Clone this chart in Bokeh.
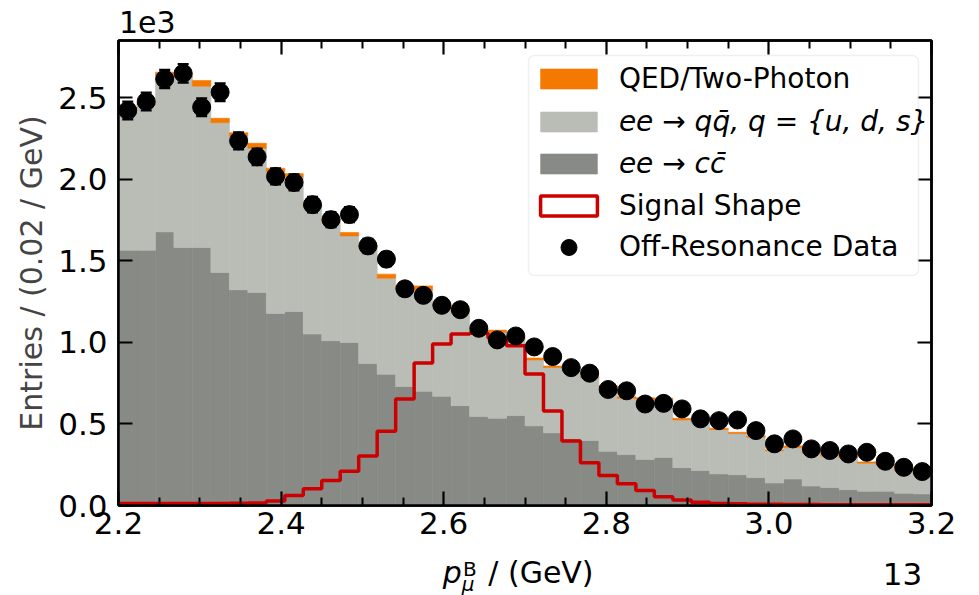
import numpy as np
from bokeh.plotting import figure
from bokeh.layouts import column
from bokeh.models import (ColumnDataSource, Range1d, LinearAxis, FixedTicker, Div,
                          CustomJSTickFormatter, Legend, LegendItem, BoxAnnotation)
from bokeh.embed import file_html
from bokeh.resources import INLINE

# ---------------- data (entries per bin) ----------------
x_start, x_end, n_bins = 2.2, 3.2, 44

ccbar = [1565, 1565, 1677, 1581, 1581, 1428, 1322, 1305, 1177, 1189,
         1051, 1010, 999, 871, 804, 730, 700, 669, 612, 545,
         534, 551, 488, 445, 410, 398, 332, 312, 282, 294,
         232, 214, 194, 189, 171, 138, 162, 119, 110, 97,
         87, 88, 75, 71]
uds = [860, 890, 961, 1044, 989, 918, 942, 884, 867, 824,
       779, 728, 653, 710, 589, 596, 620, 555, 577, 517,
       527, 473, 404, 401, 432, 383, 392, 345, 369, 354,
       292, 304, 271, 252, 247, 197, 193, 201, 192, 195,
       172, 159, 139, 127]
qed = [15, 15, 18, 25, 35, 27, 21, 31, 23, 21,
       16, 17, 21, 16, 25, 20, 26, 14, 15, 13,
       14, 10, 12, 9, 9, 8, 10, 10, 10, 10,
       10, 8, 8, 8, 10, 6, 10, 10, 10, 8,
       8, 8, 11, 12]
signal = [12, 12, 12, 12, 12, 12, 14, 16, 28, 62,
          102, 153, 210, 303, 455, 653, 873, 990, 1051, 1055,
          1026, 979, 806, 579, 396, 262, 184, 133, 92, 53,
          33, 20, 12, 10, 8, 8, 6, 6, 5, 5,
          5, 5, 5, 5]
data = [2421, 2476, 2614, 2649, 2441, 2533, 2235, 2137, 2017, 1980,
        1844, 1752, 1783, 1591, 1510, 1328, 1288, 1227, 1200, 1086,
        1015, 1039, 972, 913, 845, 811, 711, 703, 622, 626,
        592, 531, 520, 524, 459, 378, 408, 347, 337, 316,
        326, 271, 234, 208]
data_err = [54, 55, 56, 57, 54, 55, 52, 51, 49, 49,
            47, 46, 46, 44, 43, 40, 39, 39, 38, 36,
            35, 35, 34, 33, 32, 31, 29, 29, 27, 28,
            27, 25, 25, 25, 24, 21, 22, 20, 20, 20,
            20, 18, 17, 16]

x_major_ticks = [2.2, 2.4, 2.6, 2.8, 3.0, 3.2]
x_minor_ticks = [2.25, 2.3, 2.35, 2.45, 2.5, 2.55, 2.65, 2.7, 2.75,
                 2.85, 2.9, 2.95, 3.05, 3.1, 3.15]
y_major_ticks = [0, 500, 1000, 1500, 2000, 2500]
y_max = 2850

ORANGE = "#f57900"
LIGHT = "#babdb6"
DARK = "#888a85"
RED = "#cc0000"
FONT = "DejaVu Sans"

# ---------------- derived arrays ----------------
edges = np.linspace(x_start, x_end, n_bins + 1)
left, right = edges[:-1], edges[1:]
centers = 0.5 * (left + right)
cc = np.array(ccbar, float)
qq = np.array(uds, float)
qe = np.array(qed, float)
d = np.array(data, float)
de = np.array(data_err, float)

src = ColumnDataSource(dict(left=left, right=right, zero=np.zeros(n_bins),
                            cc_top=cc, qq_top=cc + qq, tot=cc + qq + qe))
dsrc = ColumnDataSource(dict(x=centers, y=d, lo=d - de, hi=d + de))

# ---------------- figure ----------------
p = figure(width=979, height=521, x_range=Range1d(x_start, x_end), y_range=Range1d(0, y_max),
           output_backend="svg", toolbar_location=None,
           min_border_left=118, min_border_right=48, min_border_top=6, min_border_bottom=50)
p.xgrid.visible = False
p.ygrid.visible = False
p.outline_line_color = "black"
p.outline_line_width = 2.5
p.background_fill_color = "white"
p.border_fill_color = "white"

xt = FixedTicker(ticks=x_major_ticks, minor_ticks=x_minor_ticks)
yt = FixedTicker(ticks=y_major_ticks, minor_ticks=[])
xfmt = CustomJSTickFormatter(code="return tick.toFixed(1)")
yfmt = CustomJSTickFormatter(code="return (tick/1000).toFixed(1)")
blank = CustomJSTickFormatter(code="return ''")


def style_axis(ax):
    ax.axis_line_width = 2.5
    ax.axis_line_color = "black"
    ax.major_tick_in = 14
    ax.major_tick_out = 0
    ax.minor_tick_in = 8
    ax.minor_tick_out = 0
    ax.major_tick_line_width = 2.2
    ax.minor_tick_line_width = 2
    ax.major_label_text_font = FONT
    ax.major_label_text_font_size = "31px"
    ax.major_label_text_color = "black"


xa = p.xaxis[0]
xa.ticker = xt
xa.formatter = xfmt
style_axis(xa)
xa.major_label_standoff = 6
ya = p.yaxis[0]
ya.ticker = yt
ya.formatter = yfmt
style_axis(ya)
ya.minor_tick_line_color = None
ya.major_label_standoff = 11
ya.axis_label = "Entries / (0.02 / GeV)"
ya.axis_label_text_font = FONT
ya.axis_label_text_font_size = "30px"
ya.axis_label_text_font_style = "normal"
ya.axis_label_standoff = 6

top_ax = LinearAxis(ticker=xt, formatter=blank)
style_axis(top_ax)
top_ax.major_label_text_font_size = "0px"
top_ax.major_label_standoff = 0
p.add_layout(top_ax, "above")
right_ax = LinearAxis(ticker=yt, formatter=blank)
style_axis(right_ax)
right_ax.major_label_text_font_size = "0px"
right_ax.major_label_standoff = 0
right_ax.minor_tick_line_color = None
p.add_layout(right_ax, "right")

# ---------------- histograms ----------------
r_cc = p.quad(left="left", right="right", bottom="zero", top="cc_top", source=src,
              fill_color=DARK, line_color=DARK, line_width=0.6)
r_qq = p.quad(left="left", right="right", bottom="cc_top", top="qq_top", source=src,
              fill_color=LIGHT, line_color=LIGHT, line_width=0.6)
r_qed = p.quad(left="left", right="right", bottom="qq_top", top="tot", source=src,
               fill_color=ORANGE, line_color=ORANGE, line_width=0.6)

sig_x = np.append(left, x_end)
sig_y = np.append(np.array(signal, float), signal[-1])
p.step(x=sig_x, y=sig_y, mode="after", line_color=RED, line_width=3.5)
r_sig_leg = p.quad(left=[np.nan], right=[np.nan], top=[np.nan], bottom=[np.nan],
                   fill_color="white", fill_alpha=0, line_color=RED, line_width=3.5)

# data points with error bars
p.segment(x0="x", y0="lo", x1="x", y1="hi", source=dsrc, line_color="black", line_width=2.2)
p.scatter(x="x", y="hi", source=dsrc, marker="dash", size=11, line_color="black", line_width=2.2)
p.scatter(x="x", y="lo", source=dsrc, marker="dash", size=11, line_color="black", line_width=2.2)
r_pts = p.scatter(x="x", y="y", source=dsrc, marker="circle", size=18,
                  fill_color="black", line_color="black")

# ---------------- legend ----------------
box = BoxAnnotation(left=410, right=800, top=450, bottom=230,
                    left_units="screen", right_units="screen", top_units="screen", bottom_units="screen",
                    fill_color="white", fill_alpha=0.8, line_color="#cccccc", line_width=1.5,
                    border_radius=6)
p.add_layout(box)


def mk_legend(items, loc, gh, style="normal", spacing=0):
    return Legend(items=items, location=loc, orientation="vertical",
                  glyph_width=71, glyph_height=gh, label_height=33, spacing=spacing,
                  padding=0, margin=0, label_standoff=15,
                  label_text_font=FONT, label_text_font_size="28px",
                  label_text_font_style=style, label_text_color="black",
                  border_line_alpha=0, background_fill_alpha=0)


p.add_layout(mk_legend([LegendItem(label="QED/Two-Photon", renderers=[r_qed])], (414.9, 410.5), 25))
p.add_layout(mk_legend([LegendItem(label="ee \u2192 q\u0071\u0304, q = {u, d, s}", renderers=[r_qq]),
                        LegendItem(label="ee \u2192 c\u0063\u0304", renderers=[r_cc])],
                       (414.9, 325), 25, style="italic", spacing=9))
p.add_layout(mk_legend([LegendItem(label="Signal Shape", renderers=[r_sig_leg])], (414.9, 283.5), 25))
p.add_layout(mk_legend([LegendItem(label="Off-Resonance Data", renderers=[r_pts])], (414.9, 238.3), 40))

# ---------------- texts outside the frame (HTML, above and below the canvas) ----------------
BOX_STYLE = ("position:relative;width:979px;height:{h}px;font-family:'DejaVu Sans';"
             "color:#000;line-height:1;white-space:nowrap;")


def span(text, x, top, size, italic=False, lh=1.0):
    st = "font-style:italic;" if italic else ""
    return (f'<span style="position:absolute;left:{x}px;top:{top}px;line-height:{lh};'
            f'font-size:{size}px;{st}">{text}</span>')


top_html = (f'<div style="{BOX_STYLE.format(h=34)}">' + span("1e3", 119, 7.6, 30) + "</div>")
bottom_html = (f'<div style="{BOX_STYLE.format(h=40)}">'
               + span("p", 442.7, 2.6, 30, True)
               + span("B", 463, 6.6, 20, lh=0.75)
               + span("\u03bc", 461.7, 22.4, 20, True, lh=0.75)
               + span("/ (GeV)", 488.3, 2.6, 30)
               + span("13", 882.7, 3.6, 31)
               + "</div>")
top_div = Div(text=top_html, width=979, height=34, margin=0)
bottom_div = Div(text=bottom_html, width=979, height=40, margin=0)

layout = column(top_div, p, bottom_div, spacing=0)
open("out.html", "w").write(file_html(layout, INLINE))
